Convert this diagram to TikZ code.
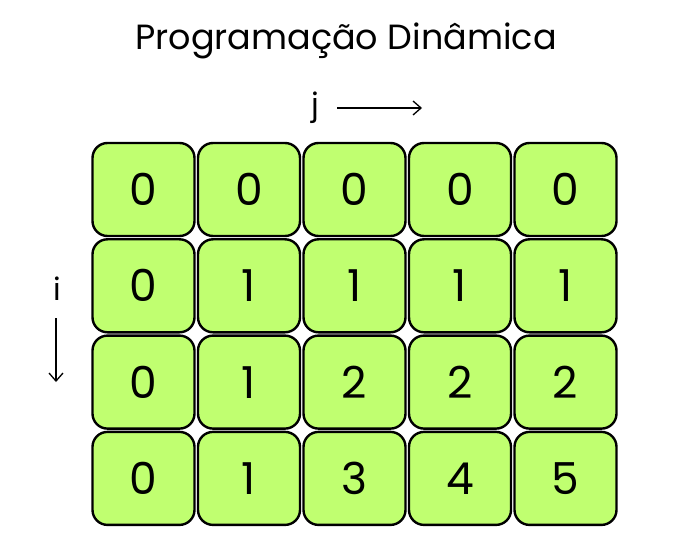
\documentclass[tikz,border=0pt]{standalone}
\usepackage{fontspec}
\setmainfont{Poppins}
\usetikzlibrary{arrows.meta}
\definecolor{cellgreen}{RGB}{192,255,112}
\tikzset{
  cell/.style={draw=black, fill=cellgreen, line width=2.4pt, rounded corners=15pt,
    minimum width=102pt, minimum height=93pt, inner sep=0pt, font=\fontsize{44}{44}\selectfont},
  lbl/.style={inner sep=0pt, font=\fontsize{35}{35}\selectfont},
  idx/.style={inner sep=0pt, font=\fontsize{31}{31}\selectfont},
  dirarrow/.style={line width=1.3pt, -{Straight Barb[length=8pt,width=14pt]}}
}
\begin{document}
\begin{tikzpicture}[x=1pt,y=-1pt]
\useasboundingbox (0,0) rectangle (693,553);
\node[lbl, anchor=base] (title) at (346,50) {Programação Dinâmica};
\node[idx, anchor=base] (j) at (315,116) {j};
\coordinate (ja) at (337,108);
\coordinate (jb) at (422,108);
\draw[dirarrow] (ja) -- (jb);
\node[idx, anchor=base] (i) at (57,300) {i};
\coordinate (ia) at (56,318);
\coordinate (ib) at (56,382);
\draw[dirarrow] (ia) -- (ib);
\foreach \r/\vals in {0/{0,0,0,0,0},1/{0,1,1,1,1},2/{0,1,2,2,2},3/{0,1,3,4,5}}{
  \foreach \v [count=\c from 0] in \vals {
    \node[cell] (c\r\c) at ({143.5+105.5*\c},{189.5+96.3*\r}) {\v};
  }
}
\end{tikzpicture}
\end{document}
